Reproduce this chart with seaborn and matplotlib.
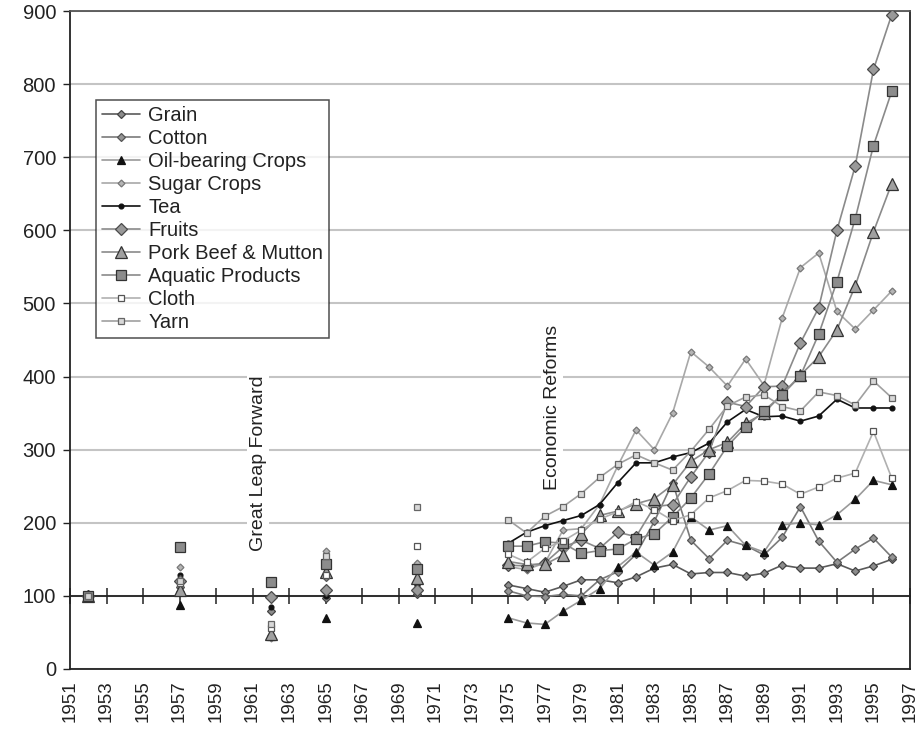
import matplotlib
matplotlib.use("Agg")
import matplotlib.pyplot as plt
import seaborn as sns

# Per-capita output index, 1952 = 100
early_years = [1952, 1957, 1962, 1965, 1970]
reform_years = list(range(1975, 1997))

grain_early = [100, 105, 80, 97, 103]
grain = [115, 110, 105, 113, 122, 122, 118, 126, 138, 143, 130, 132, 132, 127, 131, 142, 138, 138, 144, 134, 141, 150]

cotton_early = [100, 112, 45, 126, 118]
cotton = [107, 100, 99, 102, 100, 122, 133, 157, 202, 255, 176, 151, 176, 169, 156, 180, 222, 175, 146, 164, 179, 153]

oil_early = [100, 88, 45, 70, 63]
oil = [70, 63, 61, 79, 94, 110, 140, 160, 142, 160, 208, 190, 196, 169, 160, 197, 200, 197, 211, 232, 258, 252]

sugar_early = [100, 140, 42, 162, 145]
sugar = [140, 136, 145, 190, 192, 225, 278, 327, 300, 350, 434, 413, 387, 424, 388, 480, 549, 569, 489, 465, 491, 517]

tea_early = [100, 128, 85, 100, 115]
tea = [172, 187, 196, 203, 210, 225, 255, 282, 282, 290, 296, 309, 338, 355, 345, 346, 339, 346, 369, 357, 357, 357]

fruits_early = [100, 120, 98, 108, 108]
fruits = [142, 141, 145, 167, 176, 165, 187, 181, 222, 225, 263, 297, 365, 359, 386, 387, 446, 494, 600, 688, 820, 895]

pork_early = [100, 108, 48, 132, 125]
pork = [147, 143, 143, 156, 185, 210, 216, 226, 233, 252, 284, 300, 310, 336, 350, 376, 402, 427, 464, 524, 598, 664]

aquatic_early = [100, 167, 119, 143, 137]
aquatic = [168, 168, 174, 172, 158, 162, 164, 178, 185, 208, 234, 267, 305, 331, 353, 375, 401, 458, 530, 616, 716, 790]

cloth_early = [100, 117, 56, 128, 168]
cloth = [157, 146, 165, 175, 190, 205, 215, 229, 218, 203, 211, 234, 244, 258, 257, 253, 239, 249, 261, 268, 325, 261]

yarn_early = [100, 120, 62, 155, 221]
yarn = [204, 186, 209, 222, 240, 262, 280, 293, 282, 272, 298, 328, 360, 372, 375, 359, 353, 379, 374, 361, 394, 371]

series = [
    ("Grain", grain_early, grain,
     dict(color="#5a5a5a", marker="D", markersize=4, markerfacecolor="#8c8c8c", markeredgecolor="#444444")),
    ("Cotton", cotton_early, cotton,
     dict(color="#7a7a7a", marker="D", markersize=4, markerfacecolor="#959595", markeredgecolor="#555555")),
    ("Oil-bearing Crops", oil_early, oil,
     dict(color="#9a9a9a", marker="^", markersize=5.5, markerfacecolor="#111111", markeredgecolor="#111111")),
    ("Sugar Crops", sugar_early, sugar,
     dict(color="#a8a8a8", marker="D", markersize=3.5, markerfacecolor="#b5b5b5", markeredgecolor="#777777")),
    ("Tea", tea_early, tea,
     dict(color="#111111", marker="o", markersize=3.5, markerfacecolor="#111111", markeredgecolor="#111111")),
    ("Fruits", fruits_early, fruits,
     dict(color="#8a8a8a", marker="D", markersize=6, markerfacecolor="#999999", markeredgecolor="#4a4a4a")),
    ("Pork Beef & Mutton", pork_early, pork,
     dict(color="#8a8a8a", marker="^", markersize=8, markerfacecolor="#a0a0a0", markeredgecolor="#333333")),
    ("Aquatic Products", aquatic_early, aquatic,
     dict(color="#8a8a8a", marker="s", markersize=7.5, markerfacecolor="#8c8c8c", markeredgecolor="#333333")),
    ("Cloth", cloth_early, cloth,
     dict(color="#b0b0b0", marker="s", markersize=4, markerfacecolor="#ffffff", markeredgecolor="#555555")),
    ("Yarn", yarn_early, yarn,
     dict(color="#a0a0a0", marker="s", markersize=4, markerfacecolor="#d8d8d8", markeredgecolor="#666666")),
]

sns.set_style("white")
plt.rcParams["font.family"] = ["Liberation Sans", "DejaVu Sans"]
FS = 14.5

fig = plt.figure(figsize=(9.21, 7.29), dpi=100)
ax = fig.add_axes([70 / 921, 1 - 669 / 729, 840 / 921, 658 / 729])

handles = []
for name, early_vals, vals, style in series:
    # isolated benchmark years (not joined)
    sns.lineplot(x=early_years, y=early_vals, ax=ax, linestyle="none",
                 markeredgewidth=0.9, label="_nolegend_", zorder=3, **style)
    # annual series from 1975 onward
    sns.lineplot(x=reform_years, y=vals, ax=ax, linewidth=1.2,
                 markeredgewidth=0.9, label=name, zorder=3, **style)
    handles.append(ax.lines[-1])

ax.set_xlim(1951, 1997)
ax.set_ylim(0, 900)
ax.set_xticks(range(1951, 1998, 2))
ax.set_xticklabels([str(y) for y in range(1951, 1998, 2)], rotation=90, fontsize=13.5, color="#222222")
ax.set_yticks(range(0, 901, 100))
ax.set_yticklabels([str(v) for v in range(0, 901, 100)], fontsize=FS, color="#222222")
ax.tick_params(axis="x", length=0, pad=8)
ax.tick_params(axis="y", length=5, width=1, direction="out", left=True, pad=5, color="#222222")
ax.set_xlabel("")
ax.set_ylabel("")

# horizontal gridlines
ax.yaxis.grid(True, color="#c4c4c4", linewidth=1.5)
ax.xaxis.grid(False)
ax.set_axisbelow(True)

for side in ["left", "right", "top", "bottom"]:
    ax.spines[side].set_visible(True)
    ax.spines[side].set_color("#222222")
    ax.spines[side].set_linewidth(1.3)
ax.spines["top"].set_color("#555555")

# base-year reference axis at 100 with crossing tick marks
base = ax.secondary_xaxis(100 / 900)
base.set_xticks(range(1951, 1998, 2))
base.tick_params(axis="x", direction="inout", length=12, width=1.1, labelbottom=False, color="#222222")
base.spines["bottom"].set_color("#222222")
base.spines["bottom"].set_linewidth(1.3)
base.set_zorder(2)

ax.text(1961.3, 282, "Great Leap Forward", rotation=90, ha="center", va="center",
        fontsize=14, color="#222222", zorder=1,
        bbox=dict(facecolor="white", edgecolor="none", pad=2))
ax.text(1977.4, 358, "Economic Reforms", rotation=90, ha="center", va="center",
        fontsize=14, color="#222222", zorder=1,
        bbox=dict(facecolor="white", edgecolor="none", pad=2))

leg = ax.legend(handles=handles, labels=[s[0] for s in series], loc="upper left",
                bbox_to_anchor=(26 / 840, 1 - 89 / 658), frameon=True, fancybox=False,
                fontsize=FS, labelspacing=0.2, handlelength=1.9, handletextpad=0.4,
                borderpad=0.3, borderaxespad=0)
leg.get_frame().set_edgecolor("#222222")
leg.get_frame().set_linewidth(1.1)
leg.set_zorder(5)
for t in leg.get_texts():
    t.set_color("#222222")

fig.savefig("out.png", dpi=100)
